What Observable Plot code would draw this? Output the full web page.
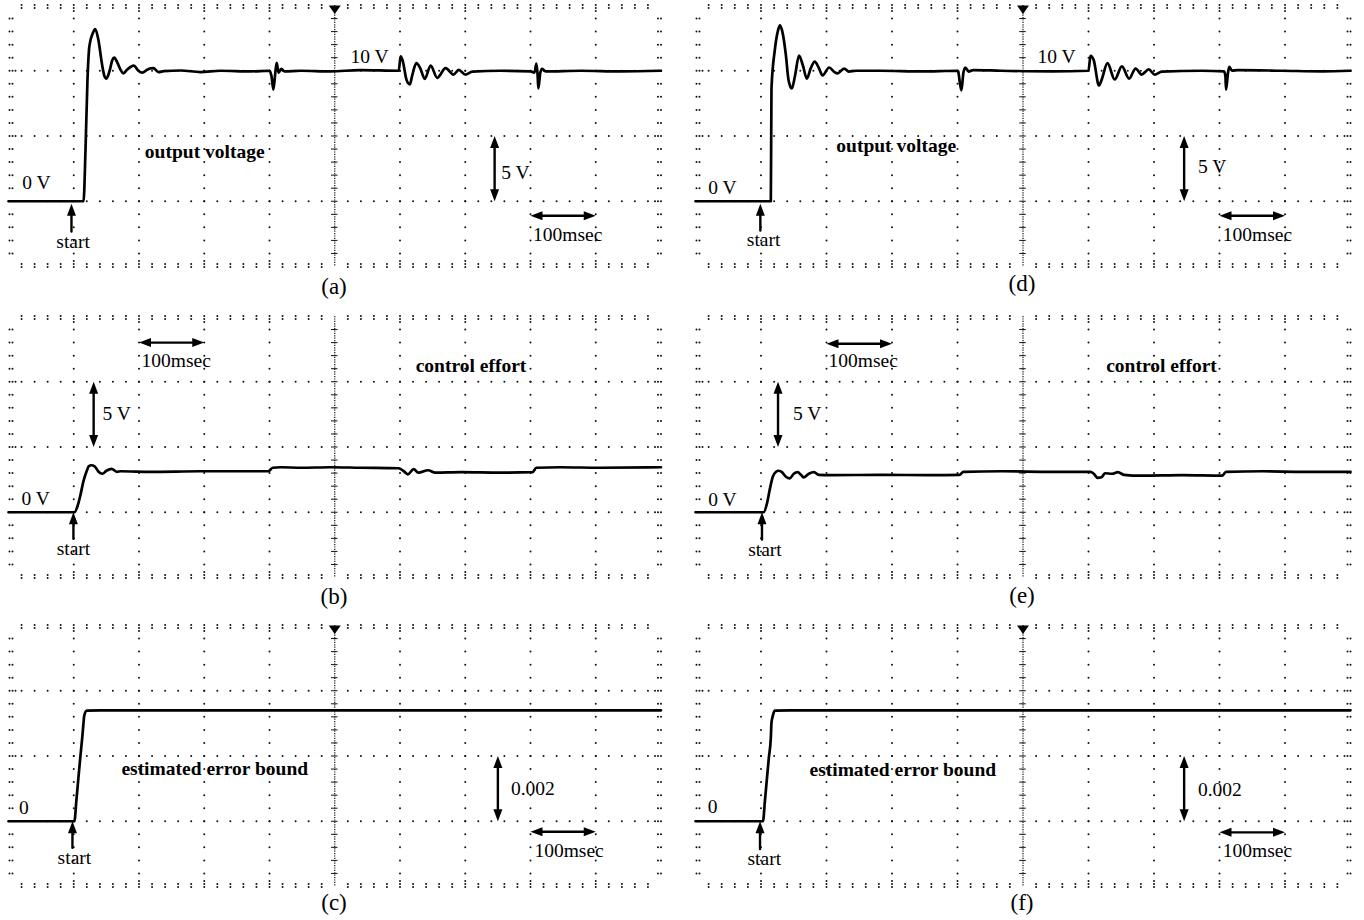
<!DOCTYPE html>
<html><head><meta charset="utf-8">
<script src="https://cdn.jsdelivr.net/npm/d3@7"></script>
<script src="https://cdn.jsdelivr.net/npm/@observablehq/plot@0.6"></script>
<style>
body{margin:0;background:#fff;}
#root{position:relative;width:1364px;height:920px;overflow:hidden;background:#fff;}
.lab{position:absolute;width:80px;text-align:center;font-family:"Liberation Serif","Times New Roman",serif;font-size:23px;line-height:26px;color:#000;}
</style></head><body><div id="root"></div>
<script>
// ---- scales: 100 msec / division, 5 V / division, 0.002 / division ----
const timeDomain = [0, 1000];
const voltDomain = [-5, 15];
const errDomain = [-0.002, 0.006];
const panelLabels = ["(a)", "(b)", "(c)", "(d)", "(e)", "(f)"];

// ---- (a) output voltage ----
const aTime = [0,115,118,121,124,129,133,138,143,147,150,155,159,162,167,172,176,182,192,199,205,213,222,230,238,264,294,325,371,400,403,406,409,411,414,418,423,448,493,539,598,601,604,610,615,619,625,631,638,647,657,670,682,690,700,711,754,800,806,809,811,812,815,818,823,877,938,1000];
const aVolt = [0,0,3.9,9.25,11.9,12.85,13.2,12.3,10.6,9.6,9.4,10.0,10.8,11.0,10.6,10.05,9.8,10.1,10.4,10.0,9.85,10.1,10.2,9.9,9.97,10.02,9.9,10.0,9.95,10.0,9.6,8.56,9.9,10.6,9.85,10.15,9.95,10.0,9.95,10.05,10.0,11.1,10.8,9.3,8.95,9.7,10.58,10.2,9.38,10.4,9.46,10.2,9.71,10.07,9.71,9.94,10.0,9.95,9.85,10.55,9.6,8.65,9.85,10.15,9.95,10.0,9.95,10.0];
const aNotes = [{label:"0 V", t:21, v:1.38}, {label:"10 V", t:524, v:11.07}, {label:"5 V", t:755, v:2.19}, {label:"100msec", t:804, v:-2.53}];
const aTitle = [{label:"output voltage", t:209, v:3.8}];
const aStart = [{label:"start", t:99, v:-3.12}];
const aArrows = [{t1:96.5, v1:-2.32, t2:96.5, v2:-0.19, both:false}, {t1:745, v1:0, t2:745, v2:5, both:true}, {t1:800, v1:-1.11, t2:900, v2:-1.11, both:true}];

// ---- (b) control effort ----
const bTime = [0,101,106,110,115,120,123,127,132,138,144,150,158,166,172,218,294,398,405,417,448,493,539,598,605,612,621,628,643,654,693,754,803,809,846,907,1000];
const bVolt = [0,0,0.5,1.26,2.41,3.18,3.52,3.6,3.52,3.1,2.95,3.18,3.33,3.1,3.14,3.1,3.14,3.14,3.41,3.45,3.41,3.45,3.41,3.37,3.18,2.91,3.3,3.03,3.22,3.03,3.07,3.03,3.07,3.41,3.45,3.41,3.45];
const bNotes = [{label:"100msec", t:204, v:11.6}, {label:"5 V", t:144, v:7.55}, {label:"0 V", t:20, v:1.03}];
const bTitle = [{label:"control effort", t:624, v:11.2}];
const bStart = [{label:"start", t:99.5, v:-2.8}];
const bArrows = [{t1:99.5, v1:-2.03, t2:99.5, v2:0, both:false}, {t1:130.5, v1:5, t2:130.5, v2:10, both:true}, {t1:200, v1:13, t2:300, v2:13, both:true}];

// ---- (c) estimated error bound ----
const cTime = [0,101,104,107,110,113,115,116,120,141,1000];
const cErr = [0,0,0.00063,0.0013,0.00195,0.00256,0.00302,0.00323,0.00339,0.0034,0.0034];
const cNotes = [{label:"0", t:16, v:0.00041}, {label:"0.002", t:770, v:0.001}, {label:"100msec", t:806, v:-0.00089}];
const cTitle = [{label:"estimated error bound", t:173, v:0.0016}];
const cStart = [{label:"start", t:101, v:-0.00112}];
const cArrows = [{t1:98, v1:-0.00081, t2:98, v2:0, both:false}, {t1:750, v1:0, t2:750, v2:0.002, both:true}, {t1:800, v1:-0.00032, t2:900, v2:-0.00032, both:true}];

// ---- (d) output voltage ----
const dTime = [0,115,116,121,126,129,133,138,142,147,152,158,164,170,176,182,188,194,204,213,217,227,234,245,283,345,400,401,404,406,409,412,417,424,467,544,600,603,608,616,620,629,640,651,662,672,681,692,701,712,773,807,809,810,813,815,819,828,896,957,1000];
const dVolt = [0,0,8.64,11.55,13.1,13.47,12.9,11.2,9.3,8.64,9.64,11.17,10.4,9.4,10.2,10.7,10.25,9.64,10.25,9.86,9.8,10.17,9.94,10.0,10.0,9.95,10.0,9.95,8.95,8.5,9.85,10.25,9.94,10.05,10.0,9.95,10.0,11.15,10.8,8.87,9.3,10.58,9.33,10.33,9.4,10.17,9.71,10.1,9.71,9.94,10.0,9.95,9.6,8.56,9.85,10.3,10.0,10.05,10.0,9.95,10.0];
const dNotes = [{label:"0 V", t:19.5, v:1.0}, {label:"10 V", t:522, v:11.07}, {label:"5 V", t:767, v:2.68}, {label:"100msec", t:805, v:-2.53}];
const dTitle = [{label:"output voltage", t:215, v:4.26}];
const dStart = [{label:"start", t:104, v:-2.95}];
const dArrows = [{t1:99, v1:-2.24, t2:99, v2:-0.2, both:false}, {t1:746, v1:0, t2:746, v2:5, both:true}, {t1:800, v1:-1.11, t2:900, v2:-1.11, both:true}];

// ---- (e) control effort ----
const eTime = [0,104,109,113,118,123,127,132,138,144,150,156,161,165,173,181,188,207,283,360,403,409,467,544,603,608,614,620,625,636,645,654,681,743,804,810,865,927,1000];
const eVolt = [0,0,0.65,1.65,2.72,3.1,3.18,3.07,2.72,2.6,2.95,3.07,2.87,2.68,2.95,3.07,2.87,2.84,2.87,2.84,2.87,3.1,3.14,3.1,3.1,2.95,2.64,2.68,2.99,2.95,3.07,2.87,2.8,2.84,2.8,3.1,3.14,3.1,3.1];
const eNotes = [{label:"100msec", t:203, v:11.6}, {label:"5 V", t:149, v:7.55}, {label:"0 V", t:19.5, v:0.96}];
const eTitle = [{label:"control effort", t:627, v:11.2}];
const eStart = [{label:"start", t:106, v:-2.9}];
const eArrows = [{t1:101.5, v1:-2.09, t2:101.5, v2:0, both:false}, {t1:126, v1:5, t2:126, v2:10, both:true}, {t1:200, v1:12.91, t2:300, v2:12.91, both:true}];

// ---- (f) estimated error bound ----
const fTime = [0,103,106,109,112,115,116,118,121,145,1000];
const fErr = [0,0,0.00063,0.0013,0.00195,0.00256,0.00302,0.00323,0.00339,0.0034,0.0034];
const fNotes = [{label:"0", t:18.6, v:0.00043}, {label:"0.002", t:767, v:0.00097}, {label:"100msec", t:805, v:-0.0009}];
const fTitle = [{label:"estimated error bound", t:174, v:0.00158}];
const fStart = [{label:"start", t:105, v:-0.00115}];
const fArrows = [{t1:98.5, v1:-0.00085, t2:98.5, v2:0, both:false}, {t1:746, v1:0, t2:746, v2:0.002, both:true}, {t1:800, v1:-0.00034, t2:900, v2:-0.00034, both:true}];

// ------------------------------------------------------------------
const root = document.getElementById("root");
const FONT = "'Liberation Serif', 'Times New Roman', serif";

function headSymbol(dir) {
  const L = 12, w = 4.5;
  return {draw(ctx) {
    if (dir === "up") { ctx.moveTo(0, 0); ctx.lineTo(-w, L); ctx.lineTo(w, L); }
    else if (dir === "down") { ctx.moveTo(0, 0); ctx.lineTo(-w, -L); ctx.lineTo(w, -L); }
    else if (dir === "left") { ctx.moveTo(0, 0); ctx.lineTo(L, -w); ctx.lineTo(L, w); }
    else { ctx.moveTo(0, 0); ctx.lineTo(-L, -w); ctx.lineTo(-L, w); }
    ctx.closePath();
  }};
}
const markerDown = {draw(ctx) { ctx.moveTo(-6, 0); ctx.lineTo(6, 0); ctx.lineTo(0, 8.5); ctx.closePath(); }};

function gridMarks(yDomain, marker) {
  const [y0, y1] = yDomain;
  const div = (y1 - y0) / 4, minor = div / 5;
  const xsMinor = d3.range(1, 50).map(i => i * 20);
  const ysMinor = d3.range(1, 20).map(i => y0 + i * minor);
  const xsMajor = [100, 200, 300, 400, 600, 700, 800, 900];
  const ysMajor = [1, 2, 3].map(k => y0 + k * div);
  const hDots = ysMajor.flatMap(y => xsMinor.filter(x => x !== 500).map(x => ({x, y})));
  const vDots = xsMajor.flatMap(x => ysMinor.map(y => ({x, y})));
  const dot = {x: "x", y: "y", r: 1, fill: "#111", stroke: "none"};
  const topRow = xsMinor.filter(x => x !== 500).map(x => ({x, y: y1}));
  const botRow = xsMinor.filter(x => x !== 500).map(x => ({x, y: y0}));
  const topMaj = xsMajor.map(x => ({x, y: y1}));
  const botMaj = xsMajor.map(x => ({x, y: y0}));
  const leftCol = ysMinor.map(y => ({x: 0, y}));
  const rightCol = ysMinor.map(y => ({x: 1000, y}));
  const leftMaj = ysMajor.map(y => ({x: 0, y}));
  const rightMaj = ysMajor.map(y => ({x: 1000, y}));
  const marks = [
    Plot.dot(hDots, dot),
    Plot.dot(vDots, dot),
    Plot.dot(topRow, {...dot, dy: -0.5}), Plot.dot(topRow, {...dot, dy: 2.5}),
    Plot.dot(topMaj, {...dot, dy: 5.5}),
    Plot.dot(botRow, {...dot, dy: 0.5}), Plot.dot(botRow, {...dot, dy: -2.5}),
    Plot.dot(botMaj, {...dot, dy: -5.5}),
    Plot.dot(leftCol, {...dot, dx: 1}), Plot.dot(leftCol, {...dot, dx: 4}),
    Plot.dot(leftMaj, {...dot, dx: 7}),
    Plot.dot(rightCol, {...dot, dx: -3}), Plot.dot(rightCol, {...dot, dx: 0}),
    Plot.dot(rightMaj, {...dot, dx: -6}),
    Plot.ruleX([500], {stroke: "#111", strokeWidth: 1.2, strokeDasharray: "1.2,1.2"}),
    Plot.ruleY(ysMinor, {x1: 495, x2: 505, stroke: "#111", strokeWidth: 1})
  ];
  if (marker) marks.push(Plot.dot([500], {x: d => d, y: () => y1, symbol: markerDown, fill: "#000", stroke: "none", r: 5}));
  return marks;
}

function arrowMarks(arrows) {
  const heads = [];
  for (const a of arrows) {
    const vertical = a.t1 === a.t2;
    const endDir = vertical ? (a.v2 > a.v1 ? "up" : "down") : (a.t2 > a.t1 ? "right" : "left");
    const opp = {up: "down", down: "up", left: "right", right: "left"};
    heads.push({t: a.t2, v: a.v2, dir: endDir});
    if (a.both) heads.push({t: a.t1, v: a.v1, dir: opp[endDir]});
  }
  const marks = [
    Plot.arrow(arrows.filter(a => a.both), {x1: "t1", y1: "v1", x2: "t2", y2: "v2", headLength: 0, insetStart: 7, insetEnd: 7, stroke: "#000", strokeWidth: 2.4}),
    Plot.arrow(arrows.filter(a => !a.both), {x1: "t1", y1: "v1", x2: "t2", y2: "v2", headLength: 0, insetEnd: 7, stroke: "#000", strokeWidth: 2.4})
  ];
  for (const dir of ["up", "down", "left", "right"]) {
    const hs = heads.filter(h => h.dir === dir);
    if (hs.length) marks.push(Plot.dot(hs, {x: "t", y: "v", symbol: headSymbol(dir), fill: "#000", stroke: "none", r: 5}));
  }
  return marks;
}

function drawPanel(left, top, frameW, yDomain, times, values, notes, title, start, arrows, marker) {
  const m = 8, frameH = 261;
  const trace = times.map((t, i) => ({t, v: values[i]}));
  const chart = Plot.plot({
    width: frameW + 2 * m, height: frameH + 2 * m,
    marginLeft: m, marginRight: m, marginTop: m, marginBottom: m,
    x: {domain: timeDomain, axis: null},
    y: {domain: yDomain, axis: null},
    style: {fontFamily: FONT, background: "transparent", overflow: "visible"},
    marks: [
      ...gridMarks(yDomain, marker),
      Plot.line(trace, {x: "t", y: "v", stroke: "#000", strokeWidth: 2.7, strokeLinejoin: "round", curve: "monotone-x"}),
      ...arrowMarks(arrows),
      Plot.text(notes, {x: "t", y: "v", text: "label", textAnchor: "start", lineAnchor: "middle", fontSize: 19.5, fill: "#000"}),
      Plot.text(title, {x: "t", y: "v", text: "label", textAnchor: "start", lineAnchor: "middle", fontSize: 19.5, fontWeight: "bold", fill: "#000"}),
      Plot.text(start, {x: "t", y: "v", text: "label", textAnchor: "middle", lineAnchor: "middle", fontSize: 19.5, fill: "#000"})
    ]
  });
  chart.style.position = "absolute";
  chart.style.left = (left - m) + "px";
  chart.style.top = (top - m) + "px";
  chart.style.maxWidth = "none";
  root.appendChild(chart);
}

const L1 = 7.75, L2 = 694.5, W1 = 652.5, W2 = 655;
const T1 = 4.75, T2 = 315.75, T3 = 624.75;
drawPanel(L1, T1, W1, voltDomain, aTime, aVolt, aNotes, aTitle, aStart, aArrows, true);
drawPanel(L1, T2, W1, voltDomain, bTime, bVolt, bNotes, bTitle, bStart, bArrows, false);
drawPanel(L1, T3, W1, errDomain, cTime, cErr, cNotes, cTitle, cStart, cArrows, true);
drawPanel(L2, T1, W2, voltDomain, dTime, dVolt, dNotes, dTitle, dStart, dArrows, true);
drawPanel(L2, T2, W2, voltDomain, eTime, eVolt, eNotes, eTitle, eStart, eArrows, false);
drawPanel(L2, T3, W2, errDomain, fTime, fErr, fNotes, fTitle, fStart, fArrows, true);

const labelPos = [[334, 287], [334, 597], [334, 903], [1022, 284], [1022, 596], [1022, 903]];
panelLabels.forEach((txt, i) => {
  const d = document.createElement("div");
  d.className = "lab";
  d.textContent = txt;
  d.style.left = (labelPos[i][0] - 40) + "px";
  d.style.top = (labelPos[i][1] - 13) + "px";
  root.appendChild(d);
});
</script>
</body></html>
